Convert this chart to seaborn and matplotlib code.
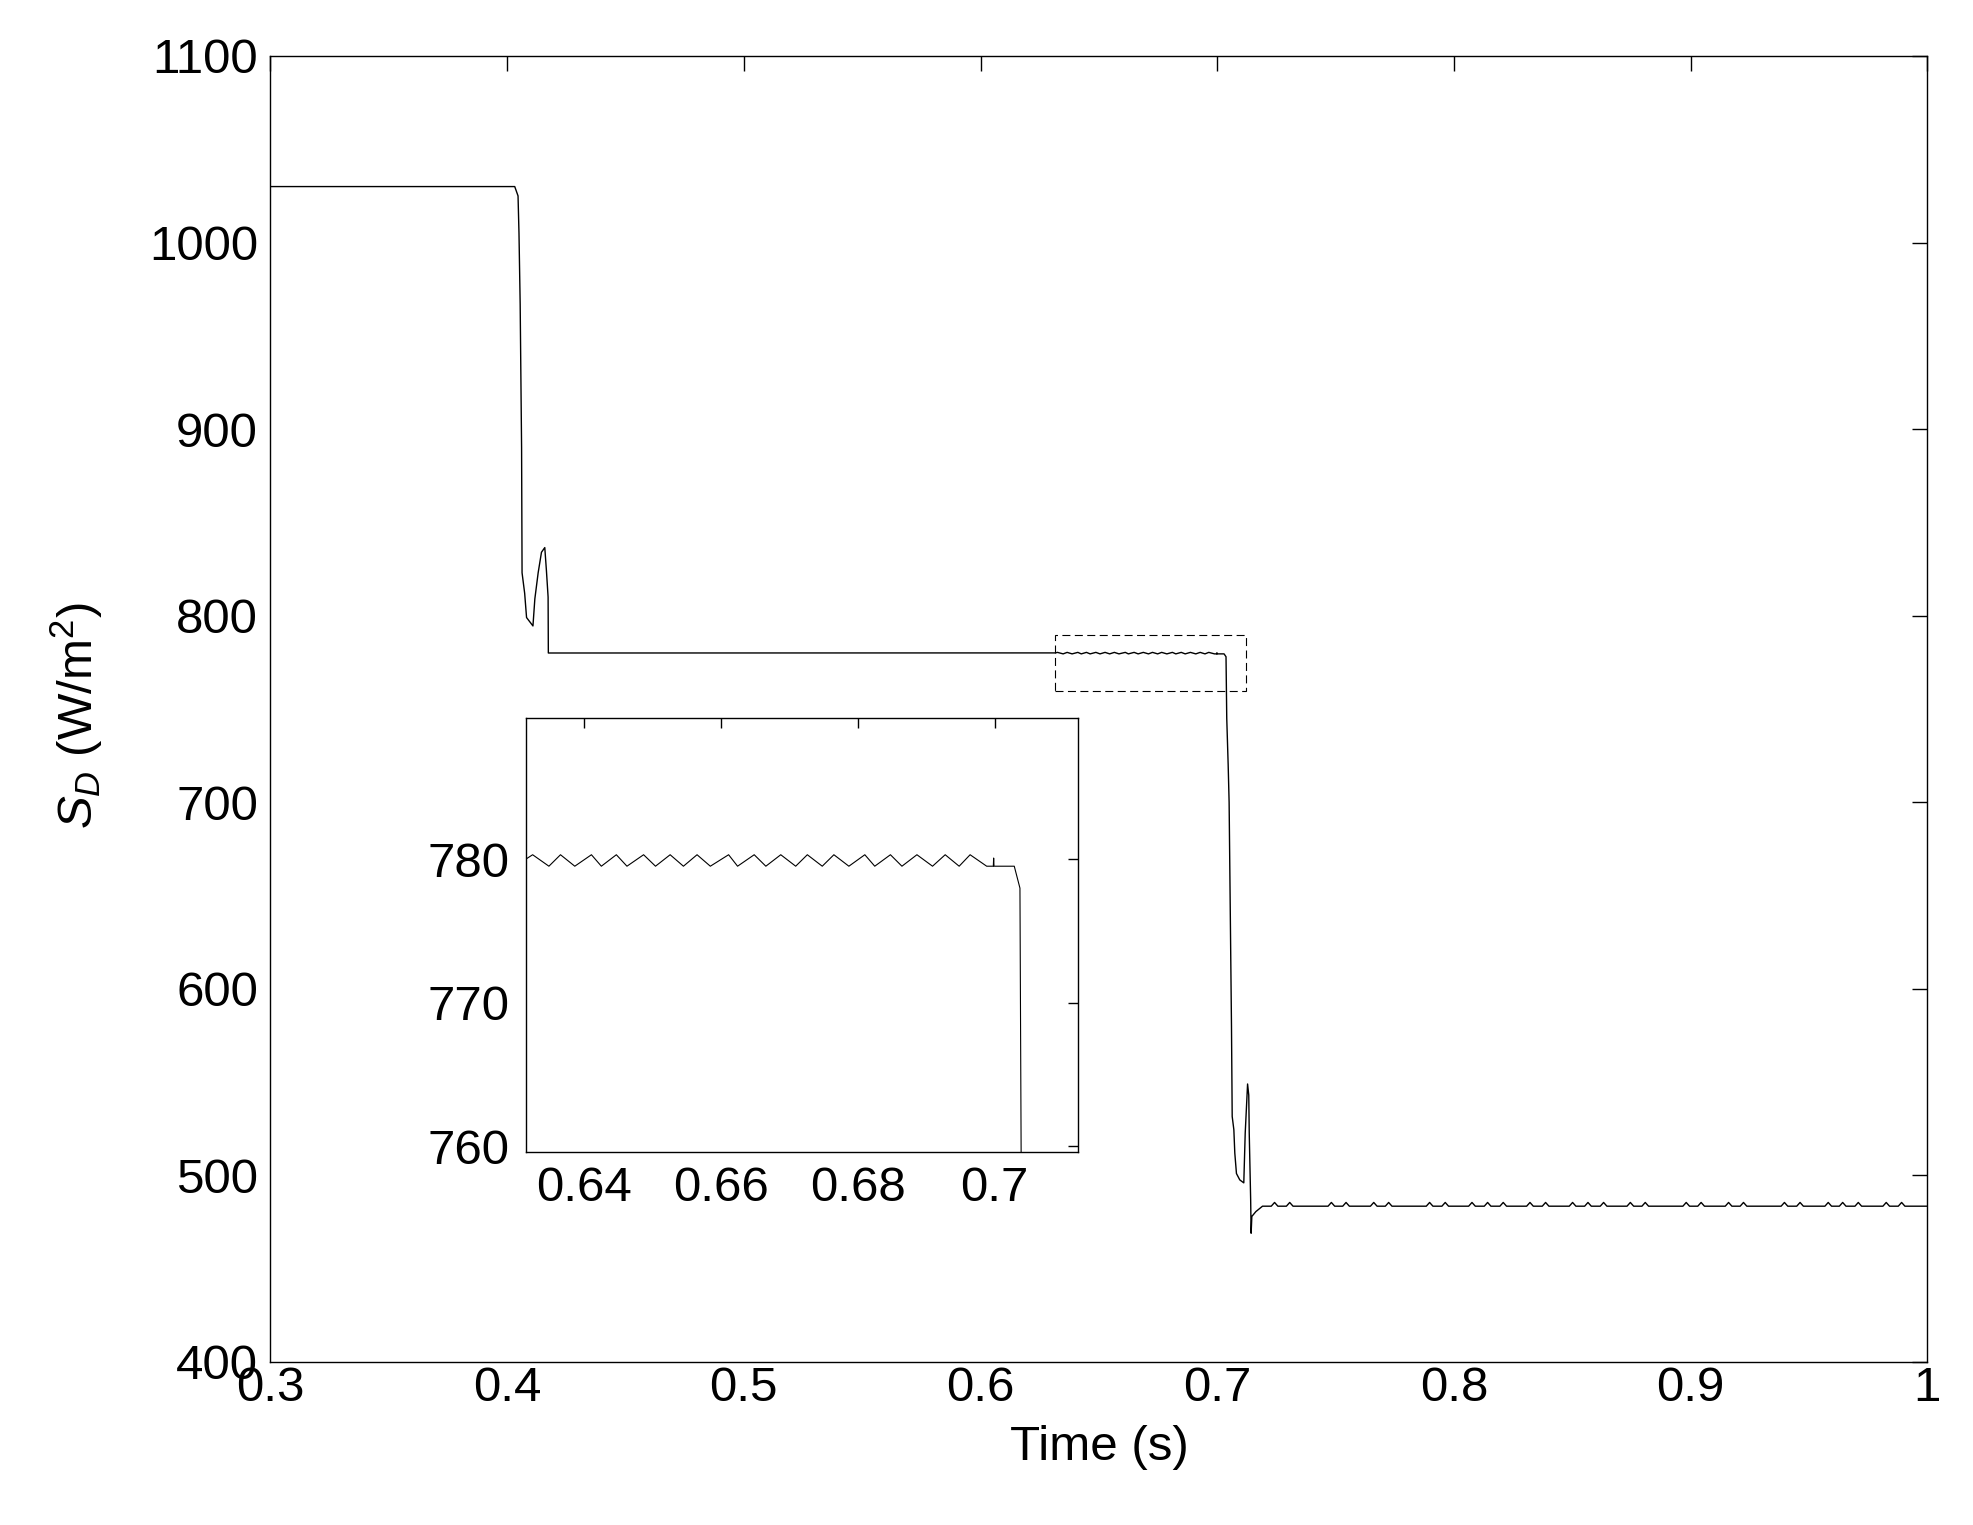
import matplotlib
matplotlib.use('Agg')
import matplotlib.pyplot as plt
from matplotlib.patches import Rectangle
import numpy as np
import pandas as pd
import seaborn as sns

# Irradiance trace S_D, split by section
# first level and first step down
t_step1 = [0.300, 0.4032, 0.4046, 0.4050, 0.4055, 0.4058, 0.4061, 0.4063, 0.4074, 0.4082,
           0.4109, 0.4117, 0.4131, 0.4145, 0.4159, 0.4166, 0.4173, 0.4174]
s_step1 = [1030, 1030, 1025, 1005, 967, 929, 890, 823, 812, 799,
           794.5, 809, 823, 834, 836.5, 824, 810, 780]

# second level, ripple seen in the zoom window
t_level2 = [0.6316, 0.63250, 0.63488, 0.63657, 0.63866, 0.64109, 0.64254, 0.64473, 0.64628,
            0.64871, 0.65045, 0.65259, 0.65453, 0.65652, 0.65846, 0.66113, 0.66244, 0.66487,
            0.66657, 0.66875, 0.67093, 0.67263, 0.67481, 0.67651, 0.67870, 0.68103, 0.68248,
            0.68477, 0.68645, 0.68864, 0.69092, 0.69277, 0.69481, 0.69641, 0.69883, 0.69980,
            0.69985, 0.69990, 0.70286, 0.70369]
s_level2 = [780.05, 780.33, 779.53, 780.33, 779.53, 780.33, 779.53, 780.33, 779.53,
            780.33, 779.53, 780.33, 779.53, 780.33, 779.53, 780.33, 779.53, 780.33,
            779.53, 780.33, 779.53, 780.33, 779.53, 780.33, 779.53, 780.33, 779.53,
            780.33, 779.53, 780.33, 779.53, 780.33, 779.53, 780.33, 779.53, 779.53,
            780.1, 779.53, 779.53, 778.0]

# second step down
t_step2 = [0.7040, 0.7046, 0.7050, 0.7055, 0.7060, 0.7063, 0.7070, 0.7074, 0.7081, 0.7095,
           0.7112, 0.7118, 0.7124, 0.7128, 0.7133, 0.7135, 0.7141, 0.7143, 0.7146, 0.7163,
           0.7191]
s_step2 = [745, 720, 700, 640, 580, 531.6, 524.5, 512, 501, 497.6,
           496, 522.7, 538, 549, 543, 522.7, 487, 469, 478, 480.6,
           483.5]

# third level with small bumps
t_level3 = [0.7228, 0.7242, 0.7256, 0.7292, 0.7306, 0.7320, 0.7468, 0.7482, 0.7496,
            0.7530, 0.7544, 0.7558, 0.7647, 0.7661, 0.7675, 0.7710, 0.7724, 0.7738,
            0.7883, 0.7897, 0.7911, 0.7949, 0.7963, 0.7977, 0.8062, 0.8076, 0.8090,
            0.8128, 0.8142, 0.8156, 0.8194, 0.8208, 0.8222, 0.8307, 0.8321, 0.8335,
            0.8373, 0.8387, 0.8401, 0.8487, 0.8501, 0.8515, 0.8552, 0.8566, 0.8580,
            0.8618, 0.8632, 0.8646, 0.8731, 0.8745, 0.8759, 0.8794, 0.8808, 0.8822,
            0.8967, 0.8981, 0.8995, 0.9030, 0.9044, 0.9058, 0.9146, 0.9160, 0.9174,
            0.9209, 0.9223, 0.9237, 0.9382, 0.9396, 0.9410, 0.9448, 0.9462, 0.9476,
            0.9567, 0.9581, 0.9595, 0.9628, 0.9642, 0.9656, 0.9694, 0.9708, 0.9722,
            0.9812, 0.9826, 0.9840, 0.9877, 0.9891, 0.9905, 1.000]
s_level3 = [483.5, 485.5, 483.5] * 29 + [483.5]

# axis ticks
x_ticks = [0.3, 0.4, 0.5, 0.6, 0.7, 0.8, 0.9, 1.0]
x_tick_labels = ['0.3', '0.4', '0.5', '0.6', '0.7', '0.8', '0.9', '1']
y_ticks = [400, 500, 600, 700, 800, 900, 1000, 1100]
y_tick_labels = ['400', '500', '600', '700', '800', '900', '1000', '1100']
inset_x_ticks = [0.64, 0.66, 0.68, 0.70]
inset_x_tick_labels = ['0.64', '0.66', '0.68', '0.7']
inset_y_ticks = [760, 770, 780]
inset_y_tick_labels = ['760', '770', '780']
zoom_x = [0.6316, 0.7122]
zoom_y = [759.6, 789.9]

df = pd.DataFrame({'t': t_step1 + t_level2 + t_step2 + t_level3,
                   'S': s_step1 + s_level2 + s_step2 + s_level3})

sns.set_style('white')
plt.rcParams['font.family'] = ['Liberation Sans', 'DejaVu Sans']
plt.rcParams['mathtext.fontset'] = 'custom'
plt.rcParams['mathtext.rm'] = 'Liberation Sans'
plt.rcParams['mathtext.it'] = 'Liberation Sans:italic'
plt.rcParams['text.color'] = 'black'
plt.rcParams['axes.labelcolor'] = 'black'

FS = 35.5

fig = plt.figure(figsize=(19.74, 15.25), dpi=100)
ax = fig.add_axes([0.1370, 0.1069, 0.8394, 0.8564])

sns.lineplot(data=df, x='t', y='S', ax=ax, color='black', linewidth=1.0,
             sort=False, estimator=None)
ax.set_xlim(0.3, 1.0)
ax.set_ylim(400, 1100)
ax.set_xticks(x_ticks)
ax.set_xticklabels(x_tick_labels)
ax.set_yticks(y_ticks)
ax.set_yticklabels(y_tick_labels)
ax.tick_params(direction='in', top=True, right=True, length=11, width=1,
               labelsize=FS, colors='black')
ax.tick_params(axis='x', pad=3)
ax.tick_params(axis='y', pad=9)
for sp in ax.spines.values():
    sp.set_linewidth(1.0)
    sp.set_color('black')
ax.set_xlabel('Time (s)', fontsize=FS, labelpad=10)
ax.set_ylabel(r'$S_D$ (W/m$^2$)', fontsize=FS)
ax.yaxis.set_label_coords(-0.100, 0.495)

# dashed box marking the zoom window
ax.add_patch(Rectangle((zoom_x[0], zoom_y[0]), zoom_x[1] - zoom_x[0], zoom_y[1] - zoom_y[0],
                       fill=False, edgecolor='black', linewidth=0.8,
                       linestyle=(0, (7.2, 4))))

# inset
axin = fig.add_axes([0.2667, 0.2446, 0.2795, 0.2849])
axin.set_facecolor('white')
sns.lineplot(data=df, x='t', y='S', ax=axin, color='black', linewidth=0.8,
             sort=False, estimator=None)
axin.set_xlim(zoom_x)
axin.set_ylim(zoom_y)
axin.set_xticks(inset_x_ticks)
axin.set_xticklabels(inset_x_tick_labels)
axin.set_yticks(inset_y_ticks)
axin.set_yticklabels(inset_y_tick_labels)
axin.tick_params(direction='in', top=True, right=True, length=7, width=1,
                 labelsize=FS, colors='black')
axin.tick_params(axis='x', pad=10)
axin.tick_params(axis='y', pad=12)
axin.set_xlabel('')
axin.set_ylabel('')
for sp in axin.spines.values():
    sp.set_linewidth(1.0)
    sp.set_color('black')

fig.savefig('out.png', dpi=100)
